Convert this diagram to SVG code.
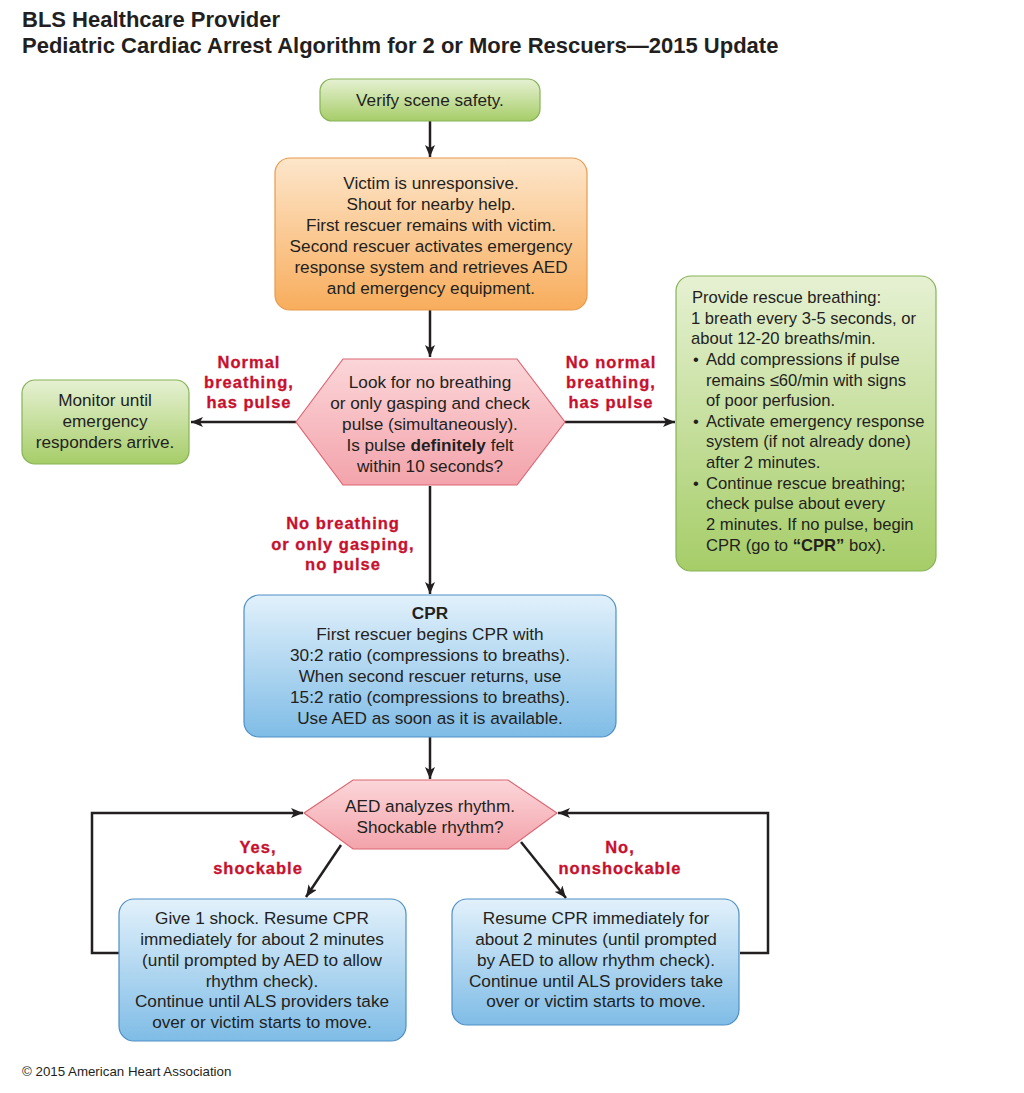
<svg xmlns="http://www.w3.org/2000/svg" width="1024" height="1093" viewBox="0 0 1024 1093">
<defs>
<linearGradient id="gGreen" x1="0" y1="0" x2="0" y2="1"><stop offset="0" stop-color="#e6f1d3"/><stop offset="1" stop-color="#a6cd68"/></linearGradient>
<linearGradient id="gOrange" x1="0" y1="0" x2="0" y2="1"><stop offset="0" stop-color="#fde6cb"/><stop offset="1" stop-color="#f8ad5c"/></linearGradient>
<linearGradient id="gPink" x1="0" y1="0" x2="0" y2="1"><stop offset="0" stop-color="#fbd6d9"/><stop offset="1" stop-color="#f3a3ab"/></linearGradient>
<linearGradient id="gBlue" x1="0" y1="0" x2="0" y2="1"><stop offset="0" stop-color="#e2f1fb"/><stop offset="1" stop-color="#7fbce6"/></linearGradient>
<marker id="ah" viewBox="0 0 12 10" refX="12" refY="5" markerWidth="12" markerHeight="10" orient="auto" markerUnits="userSpaceOnUse"><path d="M0,0 L12,5 L0,10 L3,5 Z" fill="#231f20"/></marker>
<style>
text{font-family:"Liberation Sans",Arial,Helvetica,sans-serif;fill:#231f20}
.t{font-size:17.2px;text-anchor:middle}
.tl{font-size:16.6px}
.title{font-size:22px;font-weight:bold}
.lab{font-size:16.5px;font-weight:bold;fill:#c8102e;text-anchor:middle;letter-spacing:1px;stroke:#c8102e;stroke-width:0.3}
.green{fill:url(#gGreen);stroke:#86b356;stroke-width:1.2}
.orange{fill:url(#gOrange);stroke:#e89a4e;stroke-width:1.2}
.pink{fill:url(#gPink);stroke:#dc6673;stroke-width:1.2}
.blue{fill:url(#gBlue);stroke:#4d8fc6;stroke-width:1.2}
.c{fill:none;stroke:#231f20;stroke-width:2.5;marker-end:url(#ah)}
.b{font-weight:bold}
</style>
</defs>
<rect width="1024" height="1093" fill="#ffffff"/>
<g id="title">
<text class="title" x="22" y="27">BLS Healthcare Provider</text>
<text class="title" x="22" y="53">Pediatric Cardiac Arrest Algorithm for 2 or More Rescuers—2015 Update</text>
</g>
<g id="connectors">
<path class="c" d="M430,121 V157"/>
<path class="c" d="M430,310 V357"/>
<path class="c" d="M296,422 H191"/>
<path class="c" d="M565,422 H675"/>
<path class="c" d="M430,486 V594"/>
<path class="c" d="M430,737 V779"/>
<path class="c" d="M341,845 L306,897"/>
<path class="c" d="M521,842 L566,898"/>
<path class="c" d="M119,953 H92 V813 H303"/>
<path class="c" d="M740,953 H768 V813 H558"/>
</g>
<g id="labels">
<text class="lab" x="249" y="368">Normal</text>
<text class="lab" x="249" y="388">breathing,</text>
<text class="lab" x="249" y="408">has pulse</text>
<text class="lab" x="611" y="368">No normal</text>
<text class="lab" x="611" y="388">breathing,</text>
<text class="lab" x="611" y="408">has pulse</text>
<text class="lab" x="343" y="529">No breathing</text>
<text class="lab" x="343" y="550">or only gasping,</text>
<text class="lab" x="343" y="570">no pulse</text>
<text class="lab" x="258" y="853">Yes,</text>
<text class="lab" x="258" y="874">shockable</text>
<text class="lab" x="620" y="853">No,</text>
<text class="lab" x="620" y="874">nonshockable</text>
</g>
<g id="verify">
<rect class="green" x="320" y="79" width="220" height="42" rx="12"/>
<text class="t" x="430" y="106">Verify scene safety.</text>
</g>
<g id="unresponsive">
<rect class="orange" x="275" y="158" width="312" height="152" rx="15"/>
<text class="t" x="431" y="189">Victim is unresponsive.</text>
<text class="t" x="431" y="210">Shout for nearby help.</text>
<text class="t" x="431" y="231">First rescuer remains with victim.</text>
<text class="t" x="431" y="252">Second rescuer activates emergency</text>
<text class="t" x="431" y="273">response system and retrieves AED</text>
<text class="t" x="431" y="294">and emergency equipment.</text>
</g>
<g id="check">
<polygon class="pink" points="296,422 343,359 517,359 565,422 517,485 343,485"/>
<text class="t" x="430" y="388">Look for no breathing</text>
<text class="t" x="430" y="409">or only gasping and check</text>
<text class="t" x="430" y="430">pulse (simultaneously).</text>
<text class="t" x="430" y="451">Is pulse <tspan class="b">definitely</tspan> felt</text>
<text class="t" x="430" y="472">within 10 seconds?</text>
</g>
<g id="monitor">
<rect class="green" x="22" y="380" width="167" height="84" rx="13"/>
<text class="t" x="105" y="406">Monitor until</text>
<text class="t" x="105" y="427">emergency</text>
<text class="t" x="105" y="448">responders arrive.</text>
</g>
<g id="rescue-breathing">
<rect class="green" x="676" y="276" width="260" height="295" rx="15"/>
<text class="tl" x="692" y="303">Provide rescue breathing:</text>
<text class="tl" x="691" y="324">1 breath every 3-5 seconds, or</text>
<text class="tl" x="691" y="344">about 12-20 breaths/min.</text>
<text class="tl" x="693" y="365">•</text><text class="tl" x="706" y="365">Add compressions if pulse</text>
<text class="tl" x="706" y="386">remains ≤60/min with signs</text>
<text class="tl" x="706" y="406">of poor perfusion.</text>
<text class="tl" x="693" y="427">•</text><text class="tl" x="706" y="427">Activate emergency response</text>
<text class="tl" x="706" y="447">system (if not already done)</text>
<text class="tl" x="706" y="468">after 2 minutes.</text>
<text class="tl" x="693" y="489">•</text><text class="tl" x="706" y="489">Continue rescue breathing;</text>
<text class="tl" x="706" y="509">check pulse about every</text>
<text class="tl" x="706" y="530">2 minutes. If no pulse, begin</text>
<text class="tl" x="706" y="551">CPR (go to <tspan class="b">“CPR”</tspan> box).</text>
</g>
<g id="cpr">
<rect class="blue" x="244" y="595" width="372" height="142" rx="15"/>
<text class="t b" x="430" y="619">CPR</text>
<text class="t" x="430" y="640">First rescuer begins CPR with</text>
<text class="t" x="430" y="661">30:2 ratio (compressions to breaths).</text>
<text class="t" x="430" y="682">When second rescuer returns, use</text>
<text class="t" x="430" y="703">15:2 ratio (compressions to breaths).</text>
<text class="t" x="430" y="724">Use AED as soon as it is available.</text>
</g>
<g id="aed">
<polygon class="pink" points="304,813 353,780 508,780 557,813 508,849 353,849"/>
<text class="t" x="430" y="812">AED analyzes rhythm.</text>
<text class="t" x="430" y="833">Shockable rhythm?</text>
</g>
<g id="shock">
<rect class="blue" x="119" y="899" width="287" height="142" rx="15"/>
<text class="t" x="262" y="924">Give 1 shock. Resume CPR</text>
<text class="t" x="262" y="945">immediately for about 2 minutes</text>
<text class="t" x="262" y="966">(until prompted by AED to allow</text>
<text class="t" x="262" y="987">rhythm check).</text>
<text class="t" x="262" y="1007">Continue until ALS providers take</text>
<text class="t" x="262" y="1028">over or victim starts to move.</text>
</g>
<g id="noshock">
<rect class="blue" x="452" y="899" width="287" height="126" rx="15"/>
<text class="t" x="596" y="924">Resume CPR immediately for</text>
<text class="t" x="596" y="945">about 2 minutes (until prompted</text>
<text class="t" x="596" y="966">by AED to allow rhythm check).</text>
<text class="t" x="596" y="987">Continue until ALS providers take</text>
<text class="t" x="596" y="1007">over or victim starts to move.</text>
</g>
<text x="22" y="1076" style="font-size:13.3px">© 2015 American Heart Association</text>
</svg>
